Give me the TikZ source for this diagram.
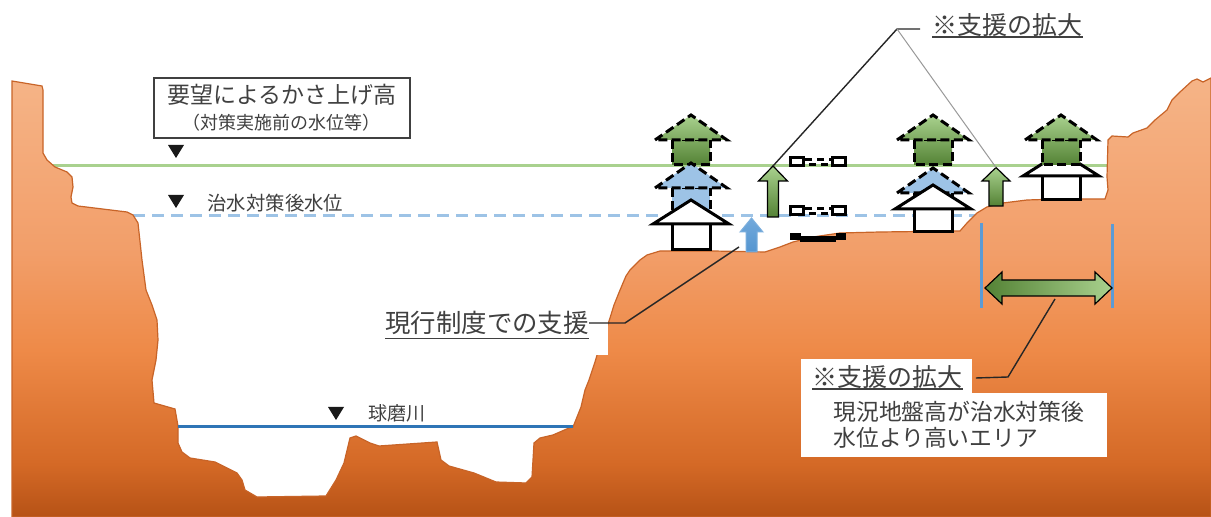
\documentclass[tikz,border=0pt]{standalone}
\usepackage{fontspec}
\newfontfamily\jpfont{Noto Sans CJK JP}
\usetikzlibrary{calc}

\definecolor{inkgray}{RGB}{64,64,64}
\definecolor{leafhi}{RGB}{169,209,142}
\definecolor{leafmid}{RGB}{126,170,97}
\definecolor{leaflo}{RGB}{84,130,53}
\definecolor{skyblue}{RGB}{157,195,230}
\definecolor{midblue}{RGB}{91,155,213}
\definecolor{riverblue}{RGB}{46,117,182}
\definecolor{soilline}{RGB}{200,100,40}
\definecolor{soilA}{RGB}{245,180,135}
\definecolor{soilB}{RGB}{242,158,105}
\definecolor{soilC}{RGB}{238,138,72}
\definecolor{soilD}{RGB}{212,105,38}
\definecolor{soilE}{RGB}{182,82,22}
\pgfdeclareverticalshading{soilgrad}{100bp}{color(0bp)=(soilE); color(25bp)=(soilE); color(31bp)=(soilD); color(44bp)=(soilC); color(55bp)=(soilB); color(75bp)=(soilA); color(100bp)=(soilA)}

\tikzset{
  jtext/.style={text=inkgray, inner sep=0pt, font=\jpfont},
  uline/.style={draw=inkgray, line width=0.6pt},
  leader/.style={draw=black!85, line width=0.7pt},
  faintleader/.style={draw=black!40, line width=0.5pt},
  houseline/.style={draw=black, fill=white, line width=1.5pt, line join=miter},
  ghostline/.style={draw=black, line width=1.5pt, dash pattern=on 4.5pt off 2.2pt, line join=miter},
  greenroof/.style={top color=leafhi, bottom color=leafmid},
  greenbody/.style={top color=leafmid, bottom color=leaflo},
  blueghost/.style={fill=skyblue},
  risearrow/.style={top color=leafhi, bottom color=leaflo, draw=black, line width=0.6pt},
  flatbox/.style={draw=black, fill=white, line width=1.5pt},
  flatdash/.style={draw=black, line width=1.5pt, dash pattern=on 3.5pt off 2.5pt},
  levelmark/.style={fill=black!90},
}

% house standing on the ground: centre x, roof apex y, ground y
\newcommand\standinghouse[3]{%
  \filldraw[houseline] ({#1-19},{#2+24}) rectangle ({#1+19},{#3});
  \filldraw[houseline] ({#1-38},{#2+24}) -- (#1,#2) -- ({#1+38},{#2+24}) -- cycle;}
% raised (dashed) house: centre x, roof apex y, roof style, body style
\newcommand\raisedhouse[4]{%
  \path[ghostline,#4] ({#1-19},{#2+25}) rectangle ({#1+19},{#2+50});
  \path[ghostline,#3] ({#1-36},{#2+25}) -- (#1,#2) -- ({#1+36},{#2+25}) -- cycle;}

\begin{document}
\begin{tikzpicture}[x=0.5pt,y=-0.5pt]
\fill[white] (0,0) rectangle (1211,517);
\useasboundingbox (0,0) rectangle (1211,517);

% water levels
\draw[leafhi, line width=1.5pt] (45,166) -- (1109,166);
\draw[skyblue, line width=1.5pt, dash pattern=on 6pt off 3.5pt] (133,216) -- (980,216);

% ground section
\shadedraw[shading=soilgrad, draw=soilline, line width=0.6pt]
  (12,517) -- (12,81) -- (42,86) -- (43,90) -- (43,153) -- (47,160) -- (55,167) -- (67,172)
  -- (72,177) -- (73,187) -- (71,197) -- (72,203) -- (78,206) -- (127,212) -- (133,215)
  -- (138,223) -- (142,260) -- (146,290) -- (152,305) -- (157,320) -- (158,340) -- (156,360)
  -- (153,375) -- (152,380) -- (154,403) -- (175,409) -- (178,426) -- (178,443) -- (182,452)
  -- (190,458) -- (215,462) -- (225,467) -- (237,473) -- (242,480) -- (245,490) -- (257,497)
  -- (326,496) -- (336,480) -- (344,463) -- (350,438) -- (356,436) -- (370,443) -- (379,446)
  -- (437,442) -- (441,460) -- (449,466) -- (474,473) -- (496,482) -- (526,483) -- (532,477)
  -- (534,443) -- (540,438) -- (553,435) -- (569,428) -- (573,427) -- (581,407) -- (585,390)
  -- (589,380) -- (595,362) -- (600,345) -- (606,330) -- (610,318) -- (614,305) -- (618,295)
  -- (623,283) -- (626,276) -- (630,270) -- (640,260) -- (647,255) -- (660,251) -- (713,251)
  -- (765,252) -- (780,247) -- (793,242) -- (813,237) -- (840,233) -- (880,232) -- (960,231)
  -- (967,223) -- (977,213) -- (987,207) -- (1003,203) -- (1027,200) -- (1060,199) -- (1105,199)
  -- (1108,190) -- (1107,177) -- (1108,140) -- (1112,136) -- (1128,137) -- (1133,133)
  -- (1147,128) -- (1155,120) -- (1167,110) -- (1172,100) -- (1180,92) -- (1192,81)
  -- (1197,79) -- (1203,82) -- (1211,78) -- (1211,517) -- cycle;

% river surface
\draw[riverblue, line width=1.5pt] (178,427) -- (573,427);

% level marks
\fill[levelmark] (168,145) -- (184,145) -- (176,158) -- cycle;
\fill[levelmark] (168,195) -- (184,195) -- (176,208) -- cycle;
\fill[levelmark] (328,407) -- (344,407) -- (336,420) -- cycle;

% houses and their raised positions
\raisedhouse{691}{115}{greenroof}{greenbody}
\raisedhouse{691}{163}{blueghost}{blueghost}
\standinghouse{691}{200}{250}
\raisedhouse{933}{115}{greenroof}{greenbody}
\raisedhouse{933}{168}{blueghost}{blueghost}
\standinghouse{933}{185}{232}
\standinghouse{1061}{152}{200}
\raisedhouse{1061}{115}{greenroof}{greenbody}

% low structure and its raised positions
\fill[black] (790,233) rectangle (801,240);
\fill[black] (836,233) rectangle (846,240);
\fill[black] (800,236) rectangle (836,242);
\foreach \c in {162,211} {
  \draw[flatdash] (802,{\c-2.5}) rectangle (832,{\c+2.5});
  \draw[flatbox] (790,{\c-4}) rectangle (803,{\c+4});
  \draw[flatbox] (832,{\c-4}) rectangle (845,{\c+4});
}

% raise arrows
\coordinate (ga1tip) at (773,166);
\coordinate (ga2tip) at (996,167.5);
\coordinate (batip) at (751.5,218);
\coordinate (bafoot) at (739,247);
\path[top color=midblue!65!skyblue, bottom color=midblue!85!riverblue, draw=midblue!80, line width=0.5pt]
  (746,252) -- (746,232) -- (740,232) -- (batip) -- (763,232) -- (757,232) -- (757,252) -- cycle;
\path[risearrow] (767.5,217) -- (767.5,181) -- (758.5,181) -- (ga1tip) -- (787.5,181) -- (778.5,181) -- (778.5,217) -- cycle;
\path[risearrow] (989,206) -- (989,181) -- (982,181) -- (ga2tip) -- (1010,181) -- (1003,181) -- (1003,206) -- cycle;

% extent of the extended area
\draw[midblue, line width=1.5pt] (981,223) -- (981,308);
\draw[midblue, line width=1.5pt] (1112,224) -- (1112,308);
\path[left color=leaflo, right color=leafhi, draw=black, line width=0.6pt]
  (985,288) -- (1002,272) -- (1002,280) -- (1095,280) -- (1095,272) -- (1112,288)
  -- (1095,304) -- (1095,296) -- (1002,296) -- (1002,304) -- cycle;
\coordinate (dblfoot) at (1055,299);

% request level label
\node[draw=inkgray, line width=0.6pt, minimum width=128pt, minimum height=30pt, inner sep=0pt] (reqbox) at (282,108) {};
\node[jtext, font=\jpfont\fontsize{11.5pt}{13pt}\selectfont] (reqA) at (282,95) {要望によるかさ上げ高};
\node[jtext, font=\jpfont\fontsize{9pt}{11pt}\selectfont] (reqB) at (281,123) {（対策実施前の水位等）};

\node[jtext, anchor=west, font=\jpfont\fontsize{9.7pt}{11pt}\selectfont] (afterlbl) at (207,203) {治水対策後水位};
\node[jtext, anchor=west, font=\jpfont\fontsize{9.5pt}{11pt}\selectfont] (riverlbl) at (368,413) {球磨川};

% extension label at the top
\node[jtext, anchor=west, font=\jpfont\fontsize{12.5pt}{14pt}\selectfont] (toplbl) at (932,25) {※支援の拡大};
\draw[uline] (toplbl.south west) -- (toplbl.south east);
\coordinate (topknee) at (897,29);
\draw[leader] ($(toplbl.west)+(-12,4)$) -- (topknee) -- (ga1tip);
\draw[faintleader] (topknee) -- (ga2tip);

% current system label
\fill[white] (377,305) rectangle (608,355);
\node[jtext, anchor=west, font=\jpfont\fontsize{12.7pt}{14pt}\selectfont] (curlbl) at (385,323) {現行制度での支援};
\draw[uline] ($(curlbl.south west)+(0,3)$) -- ($(curlbl.south east)+(0,3)$);
\coordinate (curknee) at (625,323);
\draw[leader] (curlbl.east) -- (curknee) -- (bafoot);

% extension label at the bottom
\fill[white] (801,359) rectangle (972,393);
\fill[white] (801,393) rectangle (1107,457);
\node[jtext, anchor=west, font=\jpfont\fontsize{12.5pt}{14pt}\selectfont] (caplbl) at (812,377) {※支援の拡大};
\draw[uline] (caplbl.south west) -- (caplbl.south east);
\node[jtext, anchor=west, font=\jpfont\fontsize{11.4pt}{13pt}\selectfont] (descA) at (833,412) {現況地盤高が治水対策後};
\node[jtext, anchor=west, font=\jpfont\fontsize{11.4pt}{13pt}\selectfont] (descB) at (833,438) {水位より高いエリア};
\coordinate (capknee) at (1008,377);
\draw[leader] ($(caplbl.east)+(13,1)$) -- (capknee) -- (dblfoot);
\end{tikzpicture}
\end{document}
